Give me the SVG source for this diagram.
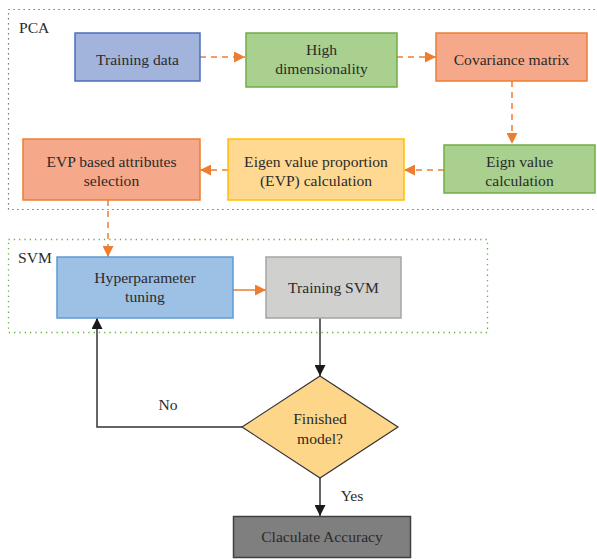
<svg xmlns="http://www.w3.org/2000/svg" width="597" height="559" viewBox="0 0 597 559">
<defs>
<style>
text{font-family:"Liberation Serif","Times New Roman",serif;font-size:15.6px;fill:#2b2b2b;text-anchor:middle}
.lbl{text-anchor:start}
.box{stroke-width:1.5}
.dash{stroke:#ed7d31;stroke-width:1.5;stroke-dasharray:6,5;fill:none}
.solidO{stroke:#ed7d31;stroke-width:1.5;fill:none}
.blk{stroke:#333;stroke-width:1.5;fill:none}
</style>
<marker id="ao2" viewBox="0 0 10 10" refX="10" refY="5" markerWidth="11" markerHeight="11" markerUnits="userSpaceOnUse" orient="auto"><path d="M0,0L10,5L0,10z" fill="#ed7d31"/></marker>
<marker id="ab" viewBox="0 0 10 10" refX="10" refY="5" markerWidth="11" markerHeight="11" markerUnits="userSpaceOnUse" orient="auto"><path d="M0,0L10,5L0,10z" fill="#1a1a1a"/></marker>
</defs>
<g id="pca-group">
<rect x="8.5" y="9.5" width="600" height="200" fill="none" stroke="#555" stroke-width="1.2" stroke-dasharray="1.2,3.8"/>
<text class="lbl" x="19" y="33">PCA</text>
</g>
<g id="svm-group">
<rect x="8.5" y="239.5" width="479" height="93" fill="none" stroke="#5cb832" stroke-width="1.3" stroke-dasharray="1.3,4"/>
<text class="lbl" x="18" y="263">SVM</text>
</g>
<g id="connectors">
<line class="dash" x1="200" y1="57" x2="245" y2="57" marker-end="url(#ao2)"/>
<line class="dash" x1="397" y1="57" x2="436" y2="57" marker-end="url(#ao2)"/>
<line class="dash" x1="512" y1="81" x2="512" y2="144" marker-end="url(#ao2)"/>
<line class="dash" x1="444" y1="170" x2="404" y2="170" marker-end="url(#ao2)"/>
<line class="dash" x1="228" y1="170" x2="200" y2="170" marker-end="url(#ao2)"/>
<line class="dash" x1="108" y1="200" x2="108" y2="257" marker-end="url(#ao2)"/>
<line class="solidO" x1="233" y1="290" x2="266" y2="290" marker-end="url(#ao2)"/>
<line class="blk" x1="320" y1="318" x2="320" y2="376" marker-end="url(#ab)"/>
<polyline class="blk" points="242,427 97,427 97,318" marker-end="url(#ab)"/>
<line class="blk" x1="320" y1="478" x2="320" y2="516" marker-end="url(#ab)"/>
<text x="168" y="410">No</text>
<text x="352" y="501">Yes</text>
</g>
<g id="training-data">
<rect class="box" x="75" y="33" width="125" height="48" fill="#a3b4dc" stroke="#4a6fba"/>
<text x="137.5" y="65">Training data</text>
</g>
<g id="high-dim">
<rect class="box" x="246" y="33" width="151" height="54" fill="#a9d08e" stroke="#70ad47"/>
<text x="321.5" y="55">High</text>
<text x="321.5" y="74">dimensionality</text>
</g>
<g id="covariance">
<rect class="box" x="436" y="33" width="151" height="48" fill="#f6a98a" stroke="#ed7d31"/>
<text x="511.5" y="65">Covariance matrix</text>
</g>
<g id="eign-value">
<rect class="box" x="444" y="145" width="151" height="48" fill="#a9d08e" stroke="#70ad47"/>
<text x="519.5" y="167">Eign value</text>
<text x="519.5" y="186">calculation</text>
</g>
<g id="evp-calc">
<rect class="box" x="228" y="139" width="176" height="61" fill="#ffd992" stroke="#ffc000"/>
<text x="316" y="167">Eigen value proportion</text>
<text x="316" y="186">(EVP) calculation</text>
</g>
<g id="evp-select">
<rect class="box" x="23" y="139" width="177" height="61" fill="#f6a98a" stroke="#ed7d31"/>
<text x="111.5" y="167">EVP based attributes</text>
<text x="111.5" y="186">selection</text>
</g>
<g id="hyperparameter">
<rect class="box" x="57" y="257" width="176" height="61" fill="#9dc0e5" stroke="#5b9bd5"/>
<text x="145" y="283">Hyperparameter</text>
<text x="145" y="302">tuning</text>
</g>
<g id="training-svm">
<rect class="box" x="266" y="257" width="135" height="61" fill="#d0d0ce" stroke="#a5a5a5"/>
<text x="333.5" y="293">Training SVM</text>
</g>
<g id="finished">
<polygon points="320,376 398,427 320,478 242,427" fill="#fed68a" stroke="#333" stroke-width="1.2"/>
<text x="320" y="424">Finished</text>
<text x="320" y="444">model?</text>
</g>
<g id="accuracy">
<rect x="233.5" y="516.5" width="177" height="41" fill="#7f7f7f" stroke="#404040" stroke-width="1.5"/>
<text x="322" y="542">Claculate Accuracy</text>
</g>
</svg>
